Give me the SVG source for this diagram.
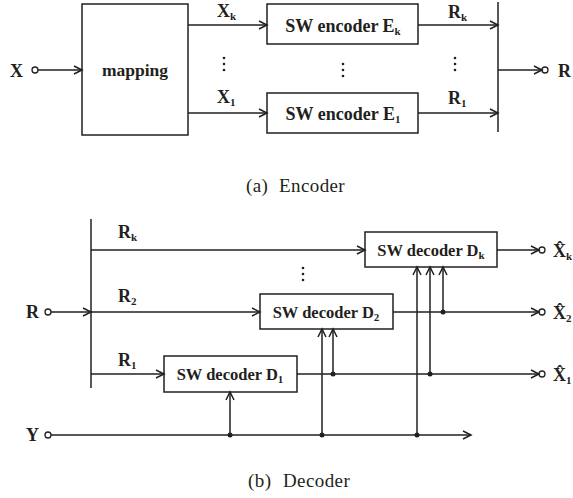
<svg xmlns="http://www.w3.org/2000/svg" width="573" height="498" viewBox="0 0 573 498">
<defs>
<marker id="arr" markerUnits="userSpaceOnUse" markerWidth="12" markerHeight="12" viewBox="0 0 12 12" refX="10" refY="6" orient="auto">
<path d="M2,2 L10,6 L2,10" fill="none" stroke="#231f20" stroke-width="1.5"/>
</marker>
<style>
.box{fill:#fff;stroke:#231f20;stroke-width:1.5}
.ln{fill:none;stroke:#231f20;stroke-width:1.5}
.ar{fill:none;stroke:#231f20;stroke-width:1.5;marker-end:url(#arr)}
.port{fill:#fff;stroke:#231f20;stroke-width:1.3}
.dot{fill:#231f20}
.lb{font-family:"Liberation Serif","Times New Roman",serif;font-weight:bold;font-size:18px;fill:#231f20}
.sub{font-size:11px}
.bt{font-family:"Liberation Serif","Times New Roman",serif;font-weight:bold;font-size:18px;fill:#231f20;text-anchor:middle}
.dt{font-family:"Liberation Serif","Times New Roman",serif;font-weight:bold;font-size:16.5px;fill:#231f20;text-anchor:middle}
.cap{font-family:"Liberation Serif","Times New Roman",serif;font-size:19px;fill:#231f20;letter-spacing:0.4px}
</style>
</defs>

<!-- Encoder nodes -->
<g id="mapping">
<rect class="box" x="82" y="4" width="106" height="131"/>
<text class="bt" x="135" y="76" style="font-size:17.5px">mapping</text>
</g>
<g id="enc_k">
<rect class="box" x="267" y="4" width="151" height="40"/>
<text class="bt" x="343" y="32">SW encoder E<tspan class="sub" dy="3">k</tspan></text>
</g>
<g id="enc_1">
<rect class="box" x="267" y="93" width="151" height="40"/>
<text class="bt" x="343" y="120">SW encoder E<tspan class="sub" dy="3">1</tspan></text>
</g>
<g id="in_X">
<text class="lb" x="10" y="77">X</text>
<circle class="port" cx="35" cy="70" r="3"/>
</g>
<g id="out_R">
<circle class="port" cx="545" cy="70" r="3"/>
<text class="lb" x="558" y="77">R</text>
</g>

<!-- Decoder nodes -->
<g id="dec_k">
<rect class="box" x="365" y="232" width="132" height="35"/>
<text class="dt" x="431" y="256">SW decoder D<tspan class="sub" dy="3">k</tspan></text>
</g>
<g id="dec_2">
<rect class="box" x="260" y="294" width="133" height="35"/>
<text class="dt" x="326" y="318">SW decoder D<tspan class="sub" dy="3">2</tspan></text>
</g>
<g id="dec_1">
<rect class="box" x="164" y="356" width="133" height="36"/>
<text class="dt" x="230" y="380">SW decoder D<tspan class="sub" dy="3">1</tspan></text>
</g>
<g id="in_R">
<text class="lb" x="26" y="318">R</text>
<circle class="port" cx="48" cy="312" r="3"/>
</g>
<g id="in_Y">
<text class="lb" x="26" y="441">Y</text>
<circle class="port" cx="48" cy="435" r="3"/>
</g>
<g id="out_Xk">
<circle class="port" cx="542" cy="250" r="3"/>
<text class="lb" x="553" y="257">X̂<tspan class="sub" dy="3">k</tspan></text>
</g>
<g id="out_X2">
<circle class="port" cx="542" cy="312" r="3"/>
<text class="lb" x="553" y="319">X̂<tspan class="sub" dy="3">2</tspan></text>
</g>
<g id="out_X1">
<circle class="port" cx="542" cy="374" r="3"/>
<text class="lb" x="553" y="381">X̂<tspan class="sub" dy="3">1</tspan></text>
</g>

<!-- Connectors -->
<g id="connectors">
<!-- encoder -->
<line class="ar" x1="38" y1="70" x2="82" y2="70"/>
<line class="ar" x1="188" y1="25" x2="267" y2="25"/>
<line class="ar" x1="188" y1="113" x2="267" y2="113"/>
<line class="ar" x1="418" y1="25" x2="498" y2="25"/>
<line class="ar" x1="418" y1="113" x2="498" y2="113"/>
<line class="ln" x1="498" y1="2" x2="498" y2="132"/>
<line class="ar" x1="498" y1="70" x2="542" y2="70"/>
<!-- decoder -->
<line class="ln" x1="91" y1="219" x2="91" y2="388"/>
<line class="ar" x1="51" y1="312" x2="91" y2="312"/>
<line class="ar" x1="91" y1="250" x2="365" y2="250"/>
<line class="ar" x1="91" y1="312" x2="260" y2="312"/>
<line class="ar" x1="91" y1="374" x2="164" y2="374"/>
<line class="ar" x1="497" y1="250" x2="539" y2="250"/>
<line class="ar" x1="393" y1="312" x2="539" y2="312"/>
<line class="ar" x1="297" y1="374" x2="539" y2="374"/>
<line class="ar" x1="51" y1="435" x2="471" y2="435"/>
<line class="ar" x1="230" y1="435" x2="230" y2="392"/>
<line class="ar" x1="322" y1="435" x2="322" y2="329"/>
<line class="ar" x1="333" y1="374" x2="333" y2="329"/>
<line class="ar" x1="417" y1="435" x2="417" y2="267"/>
<line class="ar" x1="430" y1="374" x2="430" y2="267"/>
<line class="ar" x1="443" y1="312" x2="443" y2="267"/>
<circle class="dot" cx="230" cy="435" r="2.5"/>
<circle class="dot" cx="322" cy="435" r="2.5"/>
<circle class="dot" cx="417" cy="435" r="2.5"/>
<circle class="dot" cx="333" cy="374" r="2.5"/>
<circle class="dot" cx="430" cy="374" r="2.5"/>
<circle class="dot" cx="443" cy="312" r="2.5"/>
</g>

<!-- connector labels -->
<g id="labels">
<text class="lb" x="217" y="17">X<tspan class="sub" dy="3">k</tspan></text>
<text class="lb" x="217" y="103">X<tspan class="sub" dy="3">1</tspan></text>
<text class="lb" x="448" y="18">R<tspan class="sub" dy="3">k</tspan></text>
<text class="lb" x="448" y="104">R<tspan class="sub" dy="3">1</tspan></text>
<text class="lb" x="118" y="238">R<tspan class="sub" dy="3">k</tspan></text>
<text class="lb" x="118" y="302">R<tspan class="sub" dy="3">2</tspan></text>
<text class="lb" x="118" y="366">R<tspan class="sub" dy="3">1</tspan></text>
</g>

<!-- vertical ellipses -->
<g id="ellipses" class="dot">
<circle cx="224" cy="58" r="1.3"/><circle cx="224" cy="64" r="1.3"/><circle cx="224" cy="70" r="1.3"/>
<circle cx="343" cy="64" r="1.3"/><circle cx="343" cy="70" r="1.3"/><circle cx="343" cy="76" r="1.3"/>
<circle cx="455" cy="58" r="1.3"/><circle cx="455" cy="64" r="1.3"/><circle cx="455" cy="70" r="1.3"/>
<circle cx="303" cy="268" r="1.3"/><circle cx="303" cy="274" r="1.3"/><circle cx="303" cy="280" r="1.3"/>
</g>

<!-- captions -->
<text class="cap" x="246" y="192">(a)<tspan x="279">Encoder</tspan></text>
<text class="cap" x="248" y="487">(b)<tspan x="283">Decoder</tspan></text>
</svg>
